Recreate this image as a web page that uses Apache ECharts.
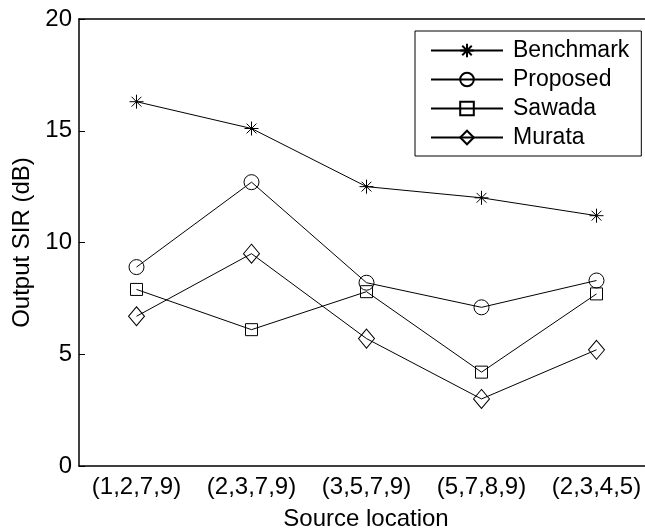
<!DOCTYPE html>
<html>
<head>
<meta charset="utf-8">
<script src="https://cdn.jsdelivr.net/npm/echarts@6/dist/echarts.min.js"></script>
<style>
  html, body { margin: 0; padding: 0; background: #fff; }
  #chart { width: 645px; height: 530px; }
</style>
</head>
<body>
<div id="chart"></div>
<script>
var categories = ['(1,2,7,9)', '(2,3,7,9)', '(3,5,7,9)', '(5,7,8,9)', '(2,3,4,5)'];
var yTicks = [0, 5, 10, 15, 20];
var seriesNames = ['Benchmark', 'Proposed', 'Sawada', 'Murata'];
var benchmark = [16.3, 15.1, 12.5, 12.0, 11.2];
var proposed = [8.9, 12.7, 8.2, 7.1, 8.3];
var sawada = [7.9, 6.1, 7.8, 4.2, 7.7];
var murata = [6.7, 9.5, 5.7, 3.0, 5.2];

var font = 'Liberation Sans, Arial, sans-serif';
var fontSize = 24;
var asterisk = 'path://M0,-10L0,10M-10,0L10,0M-7,-7L7,7M-7,7L7,-7';

//one series per method, black thin line with hollow marker
var makeSeries = function(name, data, symbol, size) {
	return {
		name: name,
		type: 'line',
		data: data,
		symbol: symbol,
		symbolSize: size,
		showSymbol: true,
		lineStyle: { color: '#000', width: 1 },
		itemStyle: { color: 'rgba(0,0,0,0)', borderColor: '#000', borderWidth: 1 },
		emphasis: { disabled: true },
		animation: false
	};
};

var axisBase = {
	type: 'category',
	data: categories,
	boundaryGap: true,
	axisLine: { lineStyle: { color: '#000', width: 1.5 } },
	axisTick: { inside: true, alignWithLabel: true, interval: 0, length: 6, lineStyle: { color: '#000' } },
	splitLine: { show: false }
};

var myChart = echarts.init(document.getElementById('chart'));
var options = {
	backgroundColor: '#fff',
	animation: false,
	grid: { left: 79, top: 19, width: 575, height: 447, outerBoundsMode: 'none' },
	legend: {
		orient: 'vertical',
		left: 415,
		top: 31,
		data: seriesNames,
		backgroundColor: '#fff',
		borderColor: '#000',
		borderWidth: 1,
		padding: [8, 12, 7, 15],
		itemWidth: 72,
		itemHeight: 17,
		itemGap: 6,
		textStyle: { fontFamily: font, fontSize: 23, color: '#000', padding: [0, 0, 0, 5] }
	},
	xAxis: [
		Object.assign({}, axisBase, {
			position: 'bottom',
			axisLabel: { fontFamily: font, fontSize: fontSize, color: '#000', margin: 9, interval: 0, hideOverlap: false }
		}),
		Object.assign({}, axisBase, {
			position: 'top',
			axisLabel: { show: false }
		})
	],
	yAxis: {
		type: 'value',
		min: yTicks[0],
		max: yTicks[yTicks.length - 1],
		interval: 5,
		name: 'Output SIR (dB)',
		nameLocation: 'middle',
		nameGap: 45,
		nameTextStyle: { fontFamily: font, fontSize: fontSize, color: '#000' },
		axisLine: { show: true, lineStyle: { color: '#000', width: 1.5 } },
		axisTick: { show: true, inside: true, length: 6, lineStyle: { color: '#000' } },
		axisLabel: { fontFamily: font, fontSize: fontSize, color: '#000', margin: 7 },
		splitLine: { show: false }
	},
	graphic: [{
		type: 'text',
		x: 366,
		y: 519,
		style: {
			text: 'Source location',
			font: fontSize + 'px ' + font,
			fill: '#000',
			align: 'center',
			verticalAlign: 'middle'
		}
	}],
	series: [
		makeSeries(seriesNames[0], benchmark, asterisk, 14),
		makeSeries(seriesNames[1], proposed, 'circle', 15),
		makeSeries(seriesNames[2], sawada, 'rect', 12),
		makeSeries(seriesNames[3], murata, 'diamond', [16, 19])
	]
};
myChart.setOption(options, true);
</script>
</body>
</html>
